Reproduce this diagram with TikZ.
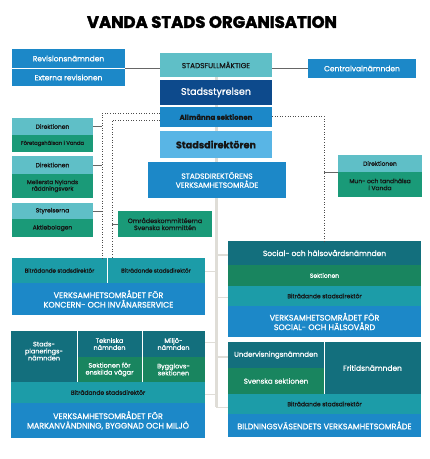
\documentclass[tikz,border=0pt]{standalone}
\usepackage{fontspec}
\setmainfont{Poppins}[FakeBold=0.9]
\newfontfamily\titlefont{Poppins}[FakeBold=2.2]
\definecolor{cTealL}{HTML}{5FBFC7}
\definecolor{cBlue}{HTML}{1C88C8}
\definecolor{cBlueD}{HTML}{0D4A8C}
\definecolor{cBlueL}{HTML}{59B5E5}
\definecolor{cGreen}{HTML}{1A9A78}
\definecolor{cTealD}{HTML}{136F7D}
\definecolor{cGreenD}{HTML}{19855F}
\definecolor{cBit}{HTML}{1C9CA8}
\definecolor{cDark}{HTML}{161616}
\definecolor{cSpine}{HTML}{DFDDD7}
\newcommand\fsz[2]{\fontsize{#1}{#2}\selectfont}
\tikzset{
  bx/.style={anchor=north west, inner sep=0pt, outer sep=0pt, align=center},
  spine/.style={draw=cSpine, line width=3pt},
  twig/.style={draw=cSpine, line width=0.8pt},
  twigthick/.style={draw=cSpine, line width=2.5pt},
  dots/.style={draw=black!70, dotted, line width=0.6pt},
  stub/.style={draw=black!60, line width=0.6pt},
  divider/.style={draw=white, line width=0.8pt},
}
\begin{document}
\begin{tikzpicture}[x=1pt,y=-1pt]
\fill[white] (0,0) rectangle (430,459);
\useasboundingbox (0,0) rectangle (430,459);

% spine
\coordinate (sp0) at (216,77);
\coordinate (sp1) at (216,407);
\draw[spine] (sp0) -- (sp1);

% title
\node[font=\fsz{16.5}{19}\titlefont\bfseries] (title) at (212,22) {VANDA STADS ORGANISATION};

% top
\node[bx, fill=cBlue, text=white, minimum width=113, minimum height=19, font=\fsz{7.5}{9}] (rev) at (12,49) {Revisionsnämnden};
\node[bx, fill=cBlue, text=white, minimum width=113, minimum height=17, font=\fsz{7.5}{9}] (ext) at (12,69) {Externa revisionen};
\node[bx, fill=cTealL, text=cDark, minimum width=112, minimum height=24, font=\fsz{7.3}{8}] (sf) at (160,53) {STADSFULLMÄKTIGE};
\node[bx, fill=cBlue, text=white, minimum width=108, minimum height=19, font=\fsz{7.5}{9}] (cv) at (308,59) {Centralvalnämnden};
\node[bx, fill=cBlueD, text=white, minimum width=112, minimum height=25, font=\fsz{9.6}{10}] (ss) at (160,80) {Stadsstyrelsen};
\node[bx, fill=cBlue, text=cDark, minimum width=112, minimum height=20, font=\fsz{7}{8}\bfseries] (allm) at (160,107) {Allmänna sektionen};
\node[bx, fill=cBlueL, text=cDark, minimum width=112, minimum height=27, font=\fsz{9.6}{10}\bfseries] (sd) at (160,131) {Stadsdirektören};
\node[bx, fill=cBlue, text=white, minimum width=138, minimum height=36, font=\fsz{7.5}{9}] (sdv) at (148,162) {STADSDIREKTÖRENS\\VERKSAMHETSOMRÅDE};

% left boards
\node[bx, fill=cTealL, text=cDark, minimum width=81, minimum height=17, font=\fsz{6}{7}] (d1) at (12,118) {Direktionen};
\node[bx, fill=cGreen, text=cDark, minimum width=81, minimum height=17, font=\fsz{5.3}{6}] (f1) at (12,135) {Företagshälsan i Vanda};
\node[bx, fill=cTealL, text=cDark, minimum width=81, minimum height=18, font=\fsz{6}{7}] (d2) at (12,156) {Direktionen};
\node[bx, fill=cGreen, text=cDark, minimum width=81, minimum height=24, font=\fsz{5.8}{6.5}] (f2) at (12,174) {Mellersta Nylands\\räddningsverk};
\node[bx, fill=cTealL, text=cDark, minimum width=81, minimum height=16, font=\fsz{6}{7}] (d3) at (12,203) {Styrelserna};
\node[bx, fill=cGreen, text=cDark, minimum width=81, minimum height=18, font=\fsz{6}{7}] (f3) at (12,219) {Aktiebolagen};
\node[bx, fill=cGreen, text=cDark, minimum width=94, minimum height=26, font=\fsz{6.3}{7}] (ok) at (118,211) {Områdeskommittéerna\\Svenska kommittén};

% right board
\node[bx, fill=cTealL, text=cDark, minimum width=84, minimum height=17, font=\fsz{6}{7}] (dr) at (338,155) {Direktionen};
\node[bx, fill=cGreen, text=cDark, minimum width=84, minimum height=25, font=\fsz{6}{7}] (fr) at (338,172) {Mun- och tandhälsa\\i Vanda};

% koncern
\node[bx, fill=cBit, text=cDark, minimum width=95, minimum height=25, font=\fsz{5.6}{7}] (kb1) at (12,258) {Biträdande stadsdirektör};
\node[bx, fill=cBit, text=cDark, minimum width=98, minimum height=25, font=\fsz{5.6}{7}] (kb2) at (107,258) {Biträdande stadsdirektör};
\node[bx, fill=cBlue, text=white, minimum width=193, minimum height=32, font=\fsz{8}{9.5}] (kv) at (12,283) {VERKSAMHETSOMRÅDET FÖR\\KONCERN- OCH INVÅNARSERVICE};
\draw[divider] (kb2.north west) -- (kb2.south west);

% social
\node[bx, fill=cTealD, text=white, minimum width=193, minimum height=24, font=\fsz{7.5}{9}] (sn) at (228,241) {Social- och hälsovårdsnämnden};
\node[bx, fill=cGreenD, text=white, minimum width=193, minimum height=21, font=\fsz{6}{7}] (ssek) at (228,265) {Sektionen};
\node[bx, fill=cBit, text=cDark, minimum width=193, minimum height=20, font=\fsz{6}{7}] (sb) at (228,286) {Biträdande stadsdirektör};
\node[bx, fill=cBlue, text=white, minimum width=193, minimum height=31, font=\fsz{8}{9.5}] (sv) at (228,306) {VERKSAMHETSOMRÅDET FÖR\\SOCIAL- OCH HÄLSOVÅRD};

% markanvandning
\node[bx, fill=cTealD, text=white, minimum width=66, minimum height=51, font=\fsz{6.5}{7}] (mp) at (11,331) {Stads-\\planerings-\\nämnden\\[4pt]};
\node[bx, fill=cTealD, text=white, minimum width=65, minimum height=26, font=\fsz{6.5}{7}] (mt) at (77,331) {Tekniska\\nämnden};
\node[bx, fill=cGreenD, text=white, minimum width=65, minimum height=25, font=\fsz{6.5}{7}] (ms) at (77,357) {Sektionen för\\enskilda vägar};
\node[bx, fill=cTealD, text=white, minimum width=63, minimum height=26, font=\fsz{6.5}{7}] (mm) at (142,331) {Miljö-\\nämnden};
\node[bx, fill=cGreenD, text=white, minimum width=63, minimum height=25, font=\fsz{6.5}{7}] (mb) at (142,357) {Bygglovs-\\sektionen};
\node[bx, fill=cBit, text=cDark, minimum width=194, minimum height=21, font=\fsz{6}{7}] (mbi) at (11,382) {Biträdande stadsdirektör};
\node[bx, fill=cBlue, text=white, minimum width=194, minimum height=35, font=\fsz{8}{9.5}] (mv) at (11,403) {VERKSAMHETSOMRÅDET FÖR\\MARKANVÄNDNING, BYGGNAD OCH MILJÖ};
\draw[divider] (mt.north west) -- (ms.south west);
\draw[divider] (mm.north west) -- (mb.south west);

% bildning
\node[bx, fill=cTealD, text=white, minimum width=96, minimum height=26, font=\fsz{7}{8}] (bu) at (228,342) {Undervisningsnämnden};
\node[bx, fill=cGreenD, text=white, minimum width=96, minimum height=26, font=\fsz{7}{8}] (bs) at (228,368) {Svenska sektionen};
\node[bx, fill=cTealD, text=white, minimum width=97, minimum height=52, font=\fsz{7.5}{9}] (bf) at (324,342) {Fritidsnämnden};
\node[bx, fill=cBit, text=cDark, minimum width=193, minimum height=20, font=\fsz{6}{7}] (bbi) at (228,394) {Biträdande stadsdirektör};
\node[bx, fill=cBlue, text=white, minimum width=193, minimum height=23, font=\fsz{8}{9.5}] (bv) at (228,414) {BILDNINGSVÄSENDETS VERKSAMHETSOMRÅDE};
\draw[divider] (bf.north west) -- (bf.south west);

% spine twigs
\coordinate (t1) at (216,255);
\coordinate (t2) at (216,271);
\coordinate (t3) at (216,297);
\coordinate (t4) at (216,342);
\coordinate (t5) at (216,357);
\coordinate (t6) at (216,394);
\coordinate (t7) at (216,407);
\draw[twigthick] (t1) -- (t1 -| sn.west);
\draw[twig] (t2) -- (t2 -| kv.east);
\draw[twig] (t3) -- (t3 -| sn.west);
\draw[twig] (t4) -- (t4 -| mm.east);
\draw[twigthick] (t5) -- (t5 -| bu.west);
\draw[twig] (t6) -- (t6 -| mbi.east);
\draw[twig] (t7) -- (t7 -| bbi.west);

% top solid lines
\draw[stub] (rev.south east) -- (rev.south east -| sf.west);
\draw[stub] (cv.west -| sf.east) -- (cv.west);

% dotted lines
\coordinate (l1) at (102,113);
\coordinate (l2) at (112,120);
\coordinate (r1) at (324,116);
\draw[dots] (allm.west |- l1) -- (l1) -- (l1 |- kb1.north);
\draw[dots] (allm.west |- l2) -- (l2) -- (l2 |- kb2.north);
\draw[dots] (allm.east |- r1) -- (r1) -- (r1 |- sn.north);
\draw[stub] (d1.east) -- (d1.east -| l1);
\draw[stub] (d2.east) -- (d2.east -| l1);
\draw[stub] (d3.east) -- (d3.east -| l1);
\draw[stub] (ok.west) -- (ok.west -| l2);
\draw[stub] (dr.south west) -- (dr.south west -| r1);
\end{tikzpicture}
\end{document}
